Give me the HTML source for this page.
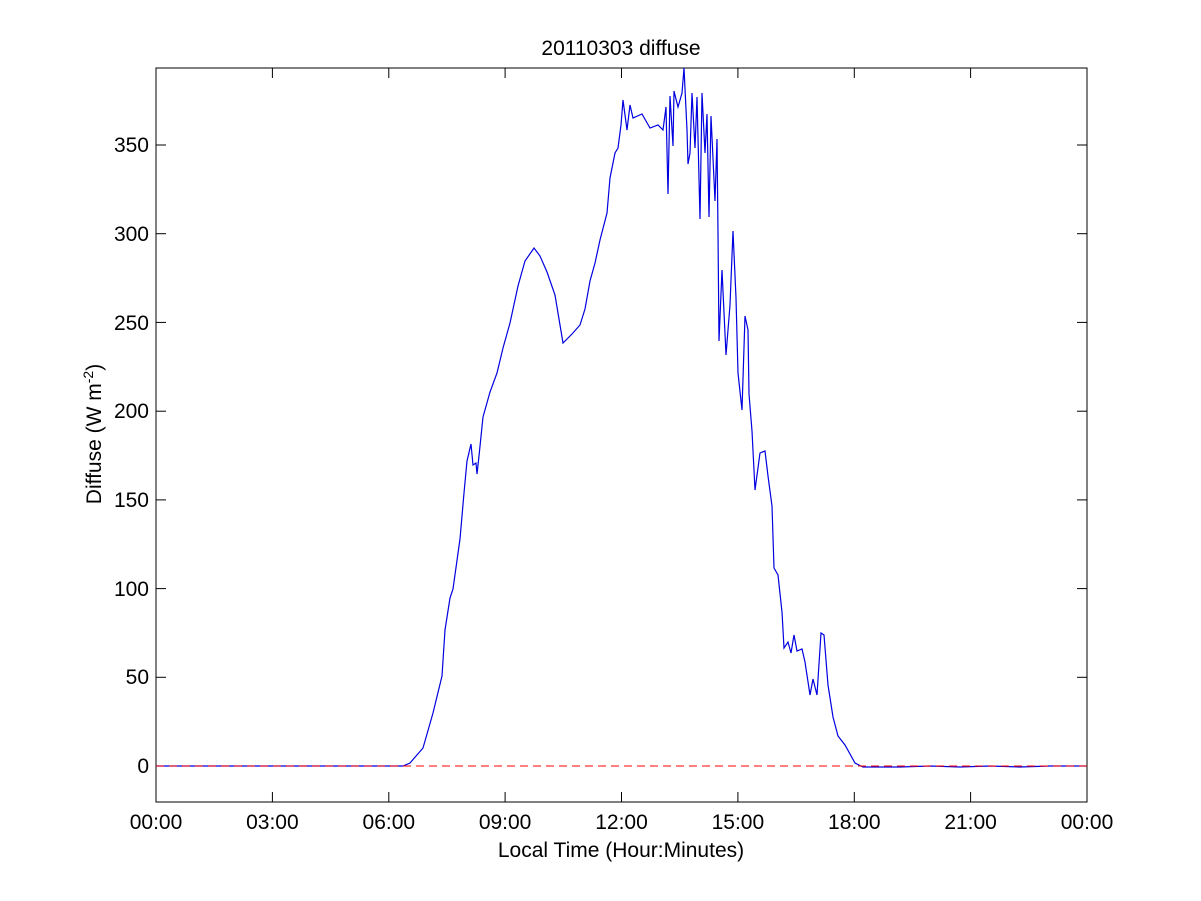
<!DOCTYPE html>
<html><head><style>body{margin:0;background:#fff}svg{display:block}text{font-family:"Liberation Sans",Arial,sans-serif;fill:#000}</style></head>
<body>
<svg width="1201" height="901" viewBox="0 0 1201 901">
<rect x="0" y="0" width="1201" height="901" fill="#fff"/>
<rect x="156" y="68" width="931" height="734" fill="#fff" stroke="#000" stroke-width="1"/>
<g stroke="#000" stroke-width="1">
<line x1="156" y1="802" x2="156" y2="792"/><line x1="156" y1="68" x2="156" y2="78"/>
<line x1="272.4" y1="802" x2="272.4" y2="792"/><line x1="272.4" y1="68" x2="272.4" y2="78"/>
<line x1="388.8" y1="802" x2="388.8" y2="792"/><line x1="388.8" y1="68" x2="388.8" y2="78"/>
<line x1="505.1" y1="802" x2="505.1" y2="792"/><line x1="505.1" y1="68" x2="505.1" y2="78"/>
<line x1="621.5" y1="802" x2="621.5" y2="792"/><line x1="621.5" y1="68" x2="621.5" y2="78"/>
<line x1="737.9" y1="802" x2="737.9" y2="792"/><line x1="737.9" y1="68" x2="737.9" y2="78"/>
<line x1="854.3" y1="802" x2="854.3" y2="792"/><line x1="854.3" y1="68" x2="854.3" y2="78"/>
<line x1="970.6" y1="802" x2="970.6" y2="792"/><line x1="970.6" y1="68" x2="970.6" y2="78"/>
<line x1="156" y1="766" x2="166" y2="766"/><line x1="1087" y1="766" x2="1077" y2="766"/>
<line x1="156" y1="677.3" x2="166" y2="677.3"/><line x1="1087" y1="677.3" x2="1077" y2="677.3"/>
<line x1="156" y1="588.6" x2="166" y2="588.6"/><line x1="1087" y1="588.6" x2="1077" y2="588.6"/>
<line x1="156" y1="499.9" x2="166" y2="499.9"/><line x1="1087" y1="499.9" x2="1077" y2="499.9"/>
<line x1="156" y1="411.2" x2="166" y2="411.2"/><line x1="1087" y1="411.2" x2="1077" y2="411.2"/>
<line x1="156" y1="322.4" x2="166" y2="322.4"/><line x1="1087" y1="322.4" x2="1077" y2="322.4"/>
<line x1="156" y1="233.7" x2="166" y2="233.7"/><line x1="1087" y1="233.7" x2="1077" y2="233.7"/>
<line x1="156" y1="145" x2="166" y2="145"/><line x1="1087" y1="145" x2="1077" y2="145"/>
</g>
<g font-size="21" text-anchor="end">
<text x="149" y="773">0</text><text x="149" y="684">50</text><text x="149" y="596">100</text>
<text x="149" y="507">150</text><text x="149" y="418">200</text><text x="149" y="330">250</text>
<text x="149" y="241">300</text><text x="149" y="152">350</text>
</g>
<g font-size="21" text-anchor="middle">
<text x="156" y="829">00:00</text><text x="272.4" y="829">03:00</text><text x="388.8" y="829">06:00</text>
<text x="505.1" y="829">09:00</text><text x="621.5" y="829">12:00</text><text x="737.9" y="829">15:00</text>
<text x="854.3" y="829">18:00</text><text x="970.6" y="829">21:00</text><text x="1087" y="829">00:00</text>
<text x="621" y="857">Local Time (Hour:Minutes)</text>
<text x="621" y="55">20110303 diffuse</text>
</g>
<text font-size="21" text-anchor="middle" transform="translate(101,434) rotate(-90)">Diffuse (W m<tspan dy="-8" font-size="14">-2</tspan><tspan dy="8">)</tspan></text>
<polyline fill="none" stroke="#0000e0" stroke-width="1.2" points="156,766 400,766 403,766 410,763 423,748 433,713 442,676 445,630 450,598 453,589 460,539 464,493 467,461 471,444 473,465 476,463 477,474 479,456 483,417 490,392 497,373 503,348 510,323 518,286 525,261 534,248 540,256 547,272 555,295 563,343 572,334 580,325 585,309 590,281 595,263 600,240 607,213 610,178 615,153 618,148 621,125 623,100 627,130 630,105 633,118 642,114 650,128 658,125 663,130 666,107 668,194 670,96 673,146 674,91 678,107 682,93 684,68 687,130 688,164 690,153 692,93 695,148 697,97 700,219 702,93 705,153 707,114 709,217 711,116 715,201 717,139 718,233 719,341 722,270 726,355 730,305 733,231 736,298 738,373 742,410 745,316 748,330 749,394 752,431 755,490 760,453 765,451 768,476 772,506 774,568 778,575 782,612 784,648 788,642 791,653 794,635 797,651 802,649 805,662 810,695 813,679 817,695 821,633 824,635 828,685 833,717 838,736 845,745 855,763 863,767 900,767 930,766 960,767 990,766 1020,767 1050,766 1087,766"/>
<line x1="156" y1="766" x2="1087" y2="766" stroke="#ff0000" stroke-width="1" stroke-dasharray="8,5"/>
</svg>
</body></html>
